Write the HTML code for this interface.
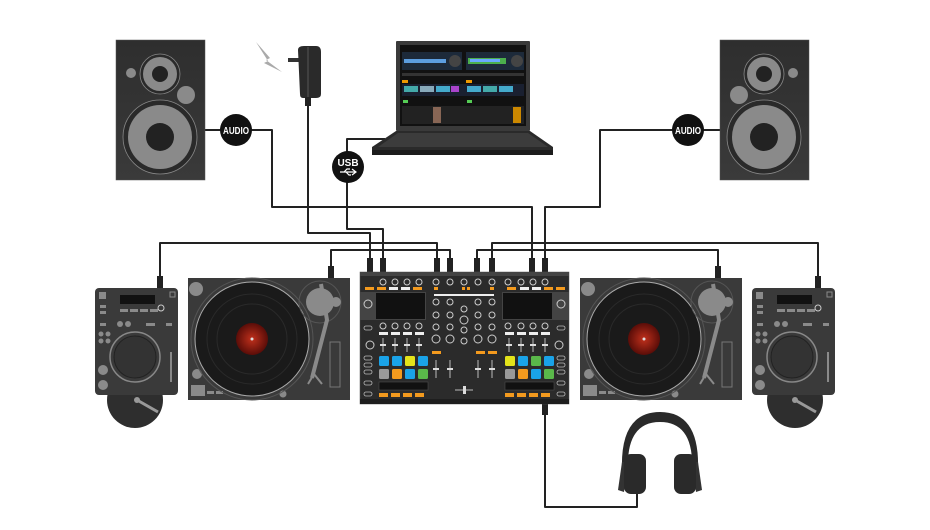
<!DOCTYPE html>
<html><head><meta charset="utf-8"><style>
html,body{margin:0;padding:0;background:#fff;}
svg{display:block;}
text{font-family:"Liberation Sans",sans-serif;}
</style></head><body>
<svg width="930" height="530" viewBox="0 0 930 530" xmlns="http://www.w3.org/2000/svg">
<defs>
<linearGradient id="spk" x1="0" y1="0" x2="0" y2="1"><stop offset="0" stop-color="#2e2e2e"/><stop offset="1" stop-color="#3a3a3a"/></linearGradient>
<radialGradient id="lbl" cx="0.5" cy="0.5" r="0.5"><stop offset="0" stop-color="#c0301c"/><stop offset="1" stop-color="#5a0d08"/></radialGradient>
</defs>
<g fill="none" stroke="#222" stroke-width="2" stroke-linejoin="round">
<!-- left audio -->
<path d="M205 130 H272 V207 H532 V262"/>
<!-- right audio -->
<path d="M720 130 H600 V207 H545 V262"/>
<!-- power -->
<path d="M308 100 V233 H370 V262"/>
<!-- usb -->
<path d="M385 139 H347 V229 H383 V262"/>
<!-- left cdj -->
<path d="M160 280 V243 H437 V262"/>
<!-- left tt -->
<path d="M331 270 V250 H450 V262"/>
<!-- right tt -->
<path d="M718 270 V250 H477 V262"/>
<!-- right cdj -->
<path d="M818 280 V243 H492 V262"/>
<!-- headphones -->
<path d="M545 410 V507 H637 V493"/>
</g>
<!-- connector plugs -->
<g fill="#222">
<rect x="367" y="258" width="6" height="14"/><rect x="380" y="258" width="6" height="14"/>
<rect x="434" y="258" width="6" height="14"/><rect x="447" y="258" width="6" height="14"/>
<rect x="474" y="258" width="6" height="14"/><rect x="489" y="258" width="6" height="14"/>
<rect x="529" y="258" width="6" height="14"/><rect x="542" y="258" width="6" height="14"/>
<rect x="157" y="276" width="6" height="12"/><rect x="328" y="266" width="6" height="12"/>
<rect x="715" y="266" width="6" height="12"/><rect x="815" y="276" width="6" height="12"/>
<rect x="542" y="403" width="6" height="12"/>
</g>

<!-- speakers -->
<g id="spkL">
<rect x="116" y="40" width="89" height="140" fill="url(#spk)" stroke="#555" stroke-width="0.5"/>
<circle cx="160" cy="74" r="20" fill="#2a2a2a" stroke="#888" stroke-width="0.8"/>
<circle cx="160" cy="74" r="17" fill="#8a8a8a"/>
<circle cx="160" cy="74" r="8" fill="#222"/>
<circle cx="160" cy="137" r="37" fill="#2a2a2a" stroke="#888" stroke-width="0.8"/>
<circle cx="160" cy="137" r="32" fill="#8a8a8a"/>
<circle cx="160" cy="137" r="14" fill="#222"/>
<circle cx="131" cy="73" r="5" fill="#8a8a8a"/>
<circle cx="186" cy="95" r="9" fill="#8a8a8a"/>
</g>
<g>
<rect x="720" y="40" width="89" height="140" fill="url(#spk)" stroke="#555" stroke-width="0.5"/>
<circle cx="764" cy="74" r="20" fill="#2a2a2a" stroke="#888" stroke-width="0.8"/>
<circle cx="764" cy="74" r="17" fill="#8a8a8a"/>
<circle cx="764" cy="74" r="8" fill="#222"/>
<circle cx="764" cy="137" r="37" fill="#2a2a2a" stroke="#888" stroke-width="0.8"/>
<circle cx="764" cy="137" r="32" fill="#8a8a8a"/>
<circle cx="764" cy="137" r="14" fill="#222"/>
<circle cx="793" cy="73" r="5" fill="#8a8a8a"/>
<circle cx="739" cy="95" r="9" fill="#8a8a8a"/>
</g>

<!-- badges -->
<circle cx="236" cy="130" r="16" fill="#111"/>
<text x="236" y="134" fill="#fff" font-size="10" font-weight="bold" text-anchor="middle" textLength="26" lengthAdjust="spacingAndGlyphs">AUDIO</text>
<circle cx="688" cy="130" r="16" fill="#111"/>
<text x="688" y="134" fill="#fff" font-size="10" font-weight="bold" text-anchor="middle" textLength="26" lengthAdjust="spacingAndGlyphs">AUDIO</text>
<circle cx="348" cy="167" r="16" fill="#111"/>
<text x="348" y="166" fill="#fff" font-size="10" font-weight="bold" text-anchor="middle">USB</text>
<path d="M340 172 H356 M352 169 L356 172 L352 175 M344 172 L347 169 H350 M346 172 L349 175 H351" stroke="#fff" stroke-width="1.2" fill="none"/>

<!-- power adapter -->
<path d="M256 42 L270 58 L266 60 L282 72 L264 63 L268 61 Z" fill="#aaa"/>
<rect x="288" y="58" width="12" height="4" fill="#333"/>
<path d="M298 50 Q298 46 304 46 H316 Q321 46 321 52 V94 Q321 98 316 98 H303 Q300 98 300 94 Z" fill="#2a2a2a"/>
<line x1="308" y1="47" x2="308" y2="98" stroke="#555" stroke-width="1"/>
<rect x="305" y="97" width="6" height="9" fill="#222"/>

<!-- laptop -->
<rect x="396" y="41" width="134" height="90" fill="#3a3a3a" rx="1"/>
<rect x="400" y="45" width="126" height="81" fill="#111"/>
<rect x="402" y="52" width="60" height="18" fill="#1d2a3a"/><rect x="404" y="59" width="42" height="4" fill="#5c9ee0"/>
<circle cx="455" cy="61" r="6" fill="#444"/>
<rect x="466" y="52" width="58" height="18" fill="#1d2a3a"/><rect x="468" y="58" width="38" height="6" fill="#4cae4c"/><rect x="470" y="59" width="30" height="3" fill="#6aa8ff"/>
<circle cx="517" cy="61" r="6" fill="#444"/>
<rect x="402" y="73" width="122" height="3" fill="#333"/>
<rect x="402" y="84" width="122" height="12" fill="#1a2030"/>
<rect x="404" y="86" width="14" height="6" fill="#4aa"/><rect x="420" y="86" width="14" height="6" fill="#8ab"/><rect x="436" y="86" width="14" height="6" fill="#4ac"/><rect x="451" y="86" width="8" height="6" fill="#a4c"/>
<rect x="467" y="86" width="14" height="6" fill="#4ac"/><rect x="483" y="86" width="14" height="6" fill="#4aa"/><rect x="499" y="86" width="14" height="6" fill="#4ac"/>
<rect x="402" y="80" width="6" height="3" fill="#e90"/><rect x="466" y="80" width="6" height="3" fill="#e90"/>
<rect x="403" y="100" width="5" height="3" fill="#5c5"/><rect x="467" y="100" width="5" height="3" fill="#5c5"/>
<rect x="402" y="106" width="122" height="18" fill="#222"/>
<rect x="433" y="107" width="8" height="16" fill="#865"/>
<rect x="513" y="107" width="8" height="16" fill="#c80"/>
<path d="M396 131 H530 L553 147 V154 H372 V147 Z" fill="#2a2a2a"/>
<path d="M398 133 H528 L548 147 H378 Z" fill="#3c3c3c"/>
<rect x="372" y="150" width="181" height="5" fill="#1c1c1c"/>

<!-- left CDJ -->
<circle cx="135" cy="400" r="28" fill="#2e2e2e"/>
<line x1="137" y1="400" x2="158" y2="412" stroke="#999" stroke-width="3"/><circle cx="137" cy="400" r="3" fill="#999"/>
<rect x="95" y="288" width="83" height="107" rx="4" fill="#3a3a3a"/>
<g fill="#8a8a8a">
<rect x="99" y="292" width="7" height="7"/><rect x="170" y="292" width="5" height="5" fill="none" stroke="#8a8a8a"/>
<rect x="100" y="305" width="6" height="3"/><rect x="100" y="311" width="6" height="3"/>
<rect x="120" y="309" width="8" height="3"/><rect x="130" y="309" width="8" height="3"/><rect x="140" y="309" width="8" height="3"/><rect x="150" y="309" width="8" height="3"/>
<rect x="100" y="323" width="6" height="3"/><circle cx="120" cy="324" r="3"/><circle cx="128" cy="324" r="3"/><rect x="146" y="323" width="9" height="3"/><rect x="166" y="323" width="6" height="3"/>
<circle cx="101" cy="334" r="2.5"/><circle cx="108" cy="334" r="2.5"/><circle cx="101" cy="341" r="2.5"/><circle cx="108" cy="341" r="2.5"/>
<circle cx="103" cy="370" r="5"/><circle cx="103" cy="385" r="5"/>
<rect x="170" y="352" width="2" height="30"/>
</g>
<rect x="120" y="295" width="35" height="9" fill="#111"/>
<circle cx="161" cy="308" r="3" fill="none" stroke="#ccc"/>
<circle cx="135" cy="357" r="25" fill="none" stroke="#888" stroke-width="1.5"/>
<circle cx="135" cy="357" r="21" fill="#333" stroke="#222"/>

<!-- right CDJ -->
<circle cx="795" cy="400" r="28" fill="#2e2e2e"/>
<line x1="795" y1="400" x2="816" y2="412" stroke="#999" stroke-width="3"/><circle cx="795" cy="400" r="3" fill="#999"/>
<rect x="752" y="288" width="83" height="107" rx="4" fill="#3a3a3a"/>
<g fill="#8a8a8a">
<rect x="756" y="292" width="7" height="7"/><rect x="827" y="292" width="5" height="5" fill="none" stroke="#8a8a8a"/>
<rect x="757" y="305" width="6" height="3"/><rect x="757" y="311" width="6" height="3"/>
<rect x="777" y="309" width="8" height="3"/><rect x="787" y="309" width="8" height="3"/><rect x="797" y="309" width="8" height="3"/><rect x="807" y="309" width="8" height="3"/>
<rect x="757" y="323" width="6" height="3"/><circle cx="777" cy="324" r="3"/><circle cx="785" cy="324" r="3"/><rect x="803" y="323" width="9" height="3"/><rect x="823" y="323" width="6" height="3"/>
<circle cx="758" cy="334" r="2.5"/><circle cx="765" cy="334" r="2.5"/><circle cx="758" cy="341" r="2.5"/><circle cx="765" cy="341" r="2.5"/>
<circle cx="760" cy="370" r="5"/><circle cx="760" cy="385" r="5"/>
<rect x="827" y="352" width="2" height="30"/>
</g>
<rect x="777" y="295" width="35" height="9" fill="#111"/>
<circle cx="818" cy="308" r="3" fill="none" stroke="#ccc"/>
<circle cx="792" cy="357" r="25" fill="none" stroke="#888" stroke-width="1.5"/>
<circle cx="792" cy="357" r="21" fill="#333" stroke="#222"/>

<!-- turntables -->
<g id="tt">
<rect x="188" y="278" width="162" height="122" fill="#3a3a3a"/>
<circle cx="196" cy="289" r="7" fill="#8a8a8a"/>
<circle cx="197" cy="374" r="5" fill="#8a8a8a"/>
<rect x="191" y="385" width="14" height="11" fill="#8a8a8a"/><rect x="207" y="391" width="7" height="3" fill="#8a8a8a"/><rect x="216" y="391" width="7" height="3" fill="#8a8a8a"/>
<circle cx="283" cy="394" r="3.5" fill="#8a8a8a"/>
<circle cx="252" cy="339" r="61" fill="none" stroke="#555" stroke-width="1"/>
<circle cx="252" cy="339" r="57" fill="#1a1a1a" stroke="#aaa" stroke-width="1"/>
<circle cx="252" cy="339" r="45" fill="none" stroke="#2a2a2a" stroke-width="1"/>
<circle cx="252" cy="339" r="35" fill="none" stroke="#2a2a2a" stroke-width="1"/>
<circle cx="252" cy="339" r="16" fill="url(#lbl)"/>
<circle cx="252" cy="339" r="1.5" fill="#ddd"/>
<circle cx="320" cy="302" r="21" fill="none" stroke="#555"/>
<circle cx="320" cy="302" r="14" fill="#8a8a8a"/>
<circle cx="336" cy="302" r="5" fill="#8a8a8a"/>
<path d="M321 284 L327 320 L312 378" stroke="#8a8a8a" stroke-width="4" fill="none"/>
<path d="M308 384 L314 374 L322 384" stroke="#8a8a8a" stroke-width="2" fill="none"/>
<rect x="330" y="342" width="10" height="45" fill="none" stroke="#777"/>
</g>
<use href="#tt" transform="translate(392 0)"/>

<!-- controller -->
<rect x="360" y="272" width="209" height="132" fill="#2b2b2b" stroke="#555" stroke-width="0.5"/>
<rect x="360" y="272" width="209" height="4" fill="#444"/>
<rect x="360" y="399" width="209" height="5" fill="#1e1e1e"/>
<g fill="none" stroke="#ccc" stroke-width="1">
<circle cx="383" cy="282" r="3"/><circle cx="395" cy="282" r="3"/><circle cx="407" cy="282" r="3"/><circle cx="419" cy="282" r="3"/>
<circle cx="436" cy="282" r="3"/><circle cx="450" cy="282" r="3"/><circle cx="464" cy="282" r="3"/><circle cx="478" cy="282" r="3"/><circle cx="492" cy="282" r="3"/>
<circle cx="508" cy="282" r="3"/><circle cx="521" cy="282" r="3"/><circle cx="533" cy="282" r="3"/><circle cx="545" cy="282" r="3"/>
<circle cx="383" cy="326" r="3"/><circle cx="395" cy="326" r="3"/><circle cx="407" cy="326" r="3"/><circle cx="419" cy="326" r="3"/>
<circle cx="508" cy="326" r="3"/><circle cx="521" cy="326" r="3"/><circle cx="533" cy="326" r="3"/><circle cx="545" cy="326" r="3"/>
<circle cx="370" cy="345" r="4"/><circle cx="559" cy="345" r="4"/>
<circle cx="436" cy="302" r="3"/><circle cx="450" cy="302" r="3"/><circle cx="478" cy="302" r="3"/><circle cx="492" cy="302" r="3"/>
<circle cx="436" cy="315" r="3"/><circle cx="450" cy="315" r="3"/><circle cx="478" cy="315" r="3"/><circle cx="492" cy="315" r="3"/>
<circle cx="436" cy="327" r="3"/><circle cx="450" cy="327" r="3"/><circle cx="478" cy="327" r="3"/><circle cx="492" cy="327" r="3"/>
<circle cx="436" cy="339" r="4"/><circle cx="450" cy="339" r="4"/><circle cx="478" cy="339" r="4"/><circle cx="492" cy="339" r="4"/>
<circle cx="464" cy="309" r="3"/><circle cx="464" cy="320" r="4"/><circle cx="464" cy="330" r="3"/><circle cx="464" cy="341" r="3"/>
</g>
<g fill="#f39a1e">
<rect x="365" y="287" width="9" height="3"/><rect x="377" y="287" width="9" height="3"/><rect x="413" y="287" width="9" height="3"/>
<rect x="544" y="287" width="9" height="3"/><rect x="556" y="287" width="9" height="3"/><rect x="507" y="287" width="9" height="3"/>
<rect x="434" y="287" width="4" height="3"/><rect x="462" y="287" width="3" height="3"/><rect x="467" y="287" width="3" height="3"/><rect x="490" y="287" width="4" height="3"/>
<rect x="432" y="351" width="9" height="3"/><rect x="476" y="351" width="9" height="3"/><rect x="488" y="351" width="9" height="3"/>
<rect x="379" y="393" width="9" height="4"/><rect x="391" y="393" width="9" height="4"/><rect x="403" y="393" width="9" height="4"/><rect x="415" y="393" width="9" height="4"/>
<rect x="505" y="393" width="9" height="4"/><rect x="517" y="393" width="9" height="4"/><rect x="529" y="393" width="9" height="4"/><rect x="541" y="393" width="9" height="4"/>
</g>
<g fill="#eee">
<rect x="389" y="287" width="9" height="3"/><rect x="401" y="287" width="9" height="3"/><rect x="520" y="287" width="9" height="3"/><rect x="532" y="287" width="9" height="3"/>
<rect x="379" y="332" width="9" height="3"/><rect x="391" y="332" width="9" height="3"/><rect x="403" y="332" width="9" height="3"/><rect x="415" y="332" width="9" height="3"/>
<rect x="505" y="332" width="9" height="3"/><rect x="517" y="332" width="9" height="3"/><rect x="529" y="332" width="9" height="3"/><rect x="541" y="332" width="9" height="3"/>
<rect x="434" y="294" width="60" height="2"/>
</g>
<rect x="360" y="292" width="66" height="28" fill="#444"/>
<rect x="376" y="293" width="49" height="26" fill="#111"/>
<circle cx="368" cy="304" r="4" fill="none" stroke="#ccc"/>
<rect x="502" y="292" width="67" height="28" fill="#444"/>
<rect x="503" y="293" width="49" height="26" fill="#111"/>
<circle cx="561" cy="304" r="4" fill="none" stroke="#ccc"/>
<!-- side buttons -->
<g fill="none" stroke="#bbb" stroke-width="0.8">
<rect x="364" y="356" width="8" height="4" rx="2"/><rect x="364" y="363" width="8" height="4" rx="2"/><rect x="364" y="370" width="8" height="4" rx="2"/><rect x="364" y="381" width="8" height="4" rx="2"/><rect x="364" y="392" width="8" height="4" rx="2"/>
<rect x="557" y="356" width="8" height="4" rx="2"/><rect x="557" y="363" width="8" height="4" rx="2"/><rect x="557" y="370" width="8" height="4" rx="2"/><rect x="557" y="381" width="8" height="4" rx="2"/><rect x="557" y="392" width="8" height="4" rx="2"/>
<rect x="364" y="326" width="8" height="4" rx="2"/><rect x="557" y="326" width="8" height="4" rx="2"/>
</g>
<!-- pads -->
<rect x="379" y="356" width="10" height="10" rx="1.5" fill="#1aa3e8"/><rect x="392" y="356" width="10" height="10" rx="1.5" fill="#1aa3e8"/><rect x="405" y="356" width="10" height="10" rx="1.5" fill="#e3e31a"/><rect x="418" y="356" width="10" height="10" rx="1.5" fill="#1aa3e8"/>
<rect x="379" y="369" width="10" height="10" rx="1.5" fill="#999"/><rect x="392" y="369" width="10" height="10" rx="1.5" fill="#f39a1e"/><rect x="405" y="369" width="10" height="10" rx="1.5" fill="#1aa3e8"/><rect x="418" y="369" width="10" height="10" rx="1.5" fill="#5ab84a"/>
<rect x="505" y="356" width="10" height="10" rx="1.5" fill="#e3e31a"/><rect x="518" y="356" width="10" height="10" rx="1.5" fill="#1aa3e8"/><rect x="531" y="356" width="10" height="10" rx="1.5" fill="#5ab84a"/><rect x="544" y="356" width="10" height="10" rx="1.5" fill="#1aa3e8"/>
<rect x="505" y="369" width="10" height="10" rx="1.5" fill="#999"/><rect x="518" y="369" width="10" height="10" rx="1.5" fill="#f39a1e"/><rect x="531" y="369" width="10" height="10" rx="1.5" fill="#1aa3e8"/><rect x="544" y="369" width="10" height="10" rx="1.5" fill="#5ab84a"/>
<rect x="379" y="382" width="49" height="8" fill="#111" stroke="#555" stroke-width="0.5"/>
<rect x="505" y="382" width="49" height="8" fill="#111" stroke="#555" stroke-width="0.5"/>
<!-- faders -->
<g stroke="#bbb" stroke-width="1">
<line x1="383" y1="338" x2="383" y2="352"/><line x1="395" y1="338" x2="395" y2="352"/><line x1="407" y1="338" x2="407" y2="352"/><line x1="419" y1="338" x2="419" y2="352"/>
<line x1="509" y1="338" x2="509" y2="352"/><line x1="521" y1="338" x2="521" y2="352"/><line x1="533" y1="338" x2="533" y2="352"/><line x1="545" y1="338" x2="545" y2="352"/>
<line x1="436" y1="360" x2="436" y2="378"/><line x1="450" y1="360" x2="450" y2="378"/><line x1="478" y1="360" x2="478" y2="378"/><line x1="492" y1="360" x2="492" y2="378"/>
<line x1="455" y1="390" x2="473" y2="390"/>
</g>
<g fill="#ddd">
<rect x="380" y="344" width="6" height="2"/><rect x="392" y="344" width="6" height="2"/><rect x="404" y="344" width="6" height="2"/><rect x="416" y="344" width="6" height="2"/>
<rect x="506" y="344" width="6" height="2"/><rect x="518" y="344" width="6" height="2"/><rect x="530" y="344" width="6" height="2"/><rect x="542" y="344" width="6" height="2"/>
<rect x="433" y="368" width="6" height="2"/><rect x="447" y="368" width="6" height="2"/><rect x="475" y="368" width="6" height="2"/><rect x="489" y="368" width="6" height="2"/>
<rect x="463" y="386" width="3" height="8"/>
</g>

<!-- headphones -->
<path d="M622 470 Q620 412 660 412 Q700 412 698 470 L692 470 Q694 422 660 422 Q626 422 628 470 Z" fill="#2a2a2a"/>
<path d="M622 462 L618 490 L624 492 L628 462 Z" fill="#333"/>
<path d="M698 462 L702 490 L696 492 L692 462 Z" fill="#333"/>
<rect x="624" y="454" width="22" height="40" rx="7" fill="#2a2a2a"/>
<rect x="674" y="454" width="22" height="40" rx="7" fill="#2a2a2a"/>
</svg>
</body></html>
